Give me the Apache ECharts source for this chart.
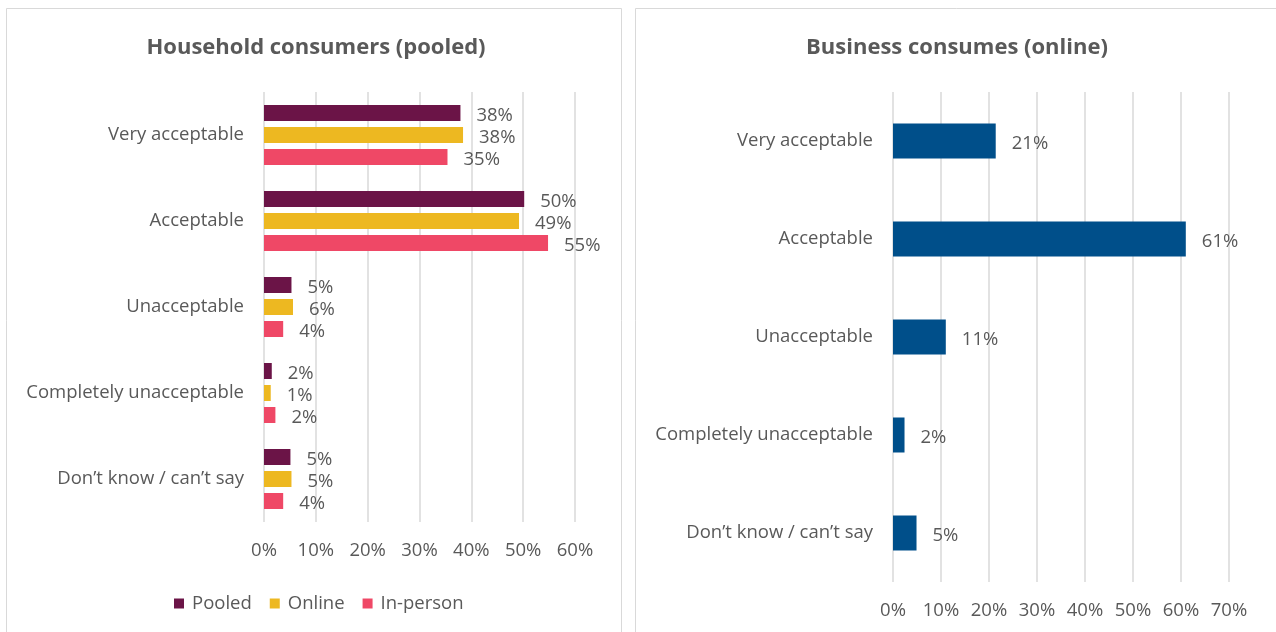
<!DOCTYPE html>
<html>
<head>
<meta charset="utf-8">
<script src="https://cdn.jsdelivr.net/npm/echarts@6/dist/echarts.min.js"></script>
<style>
  html, body { margin: 0; padding: 0; background: #fff; }
  #chart { width: 1276px; height: 632px; }
</style>
</head>
<body>
<div id="chart"></div>
<script>
// Response categories, top to bottom
const categories = ['Very acceptable', 'Acceptable', 'Unacceptable', 'Completely unacceptable', 'Don\u2019t know / can\u2019t say'];

// Household consumers (pooled), percent
const pooled   = [37.9, 50.2, 5.3, 1.5, 5.1];
const online   = [38.4, 49.2, 5.6, 1.3, 5.3];
const inPerson = [35.4, 54.8, 3.7, 2.2, 3.7];

// Business consumers (online), percent
const business = [21.4, 61.0, 11.0, 2.4, 4.9];

const leftTicks  = { min: 0, max: 60, interval: 10 };
const rightTicks = { min: 0, max: 70, interval: 10 };

const FONT = 'Open Sans';
const GREY = '#595959';
const SIZE = 18.5;

const chart = echarts.init(document.getElementById('chart'), null, { renderer: 'canvas' });

const pct = p => Math.round(p.value) + '%';

function valueAxis(gridIndex, ticks) {
  return {
    type: 'value', gridIndex,
    min: ticks.min, max: ticks.max, interval: ticks.interval,
    axisLine: { show: false }, axisTick: { show: false },
    splitLine: { show: true, lineStyle: { color: '#d9d9d9', width: 1.5 } },
    axisLabel: { formatter: '{value}%', color: GREY, fontFamily: FONT, fontSize: SIZE, margin: 19 }
  };
}

function categoryAxis(gridIndex) {
  return {
    type: 'category', gridIndex, data: categories, inverse: true,
    axisLine: { show: false }, axisTick: { show: false },
    axisLabel: { color: GREY, fontFamily: FONT, fontSize: SIZE, margin: 20 }
  };
}

function barSeries(name, data, color, axisIndex, extra) {
  return Object.assign({
    name, type: 'bar', data,
    xAxisIndex: axisIndex, yAxisIndex: axisIndex,
    itemStyle: { color },
    label: {
      show: true, position: 'right', distance: 16, formatter: pct,
      color: GREY, fontFamily: FONT, fontSize: SIZE, offset: [0, 3]
    }
  }, extra);
}

chart.setOption({
  animation: false,
  backgroundColor: '#fff',
  graphic: [
    { type: 'rect', shape: { x: 6.5, y: 8.5, width: 615, height: 640 },
      style: { fill: 'none', stroke: '#d9d9d9', lineWidth: 1 } },
    { type: 'rect', shape: { x: 635.5, y: 8.5, width: 660, height: 640 },
      style: { fill: 'none', stroke: '#d9d9d9', lineWidth: 1 } }
  ],
  title: [
    { text: 'Household consumers (pooled)', left: 311, top: 32, textAlign: 'center',
      textStyle: { color: GREY, fontFamily: FONT, fontSize: 22, fontWeight: 'bold' } },
    { text: 'Business consumes (online)', left: 952, top: 32, textAlign: 'center',
      textStyle: { color: GREY, fontFamily: FONT, fontSize: 22, fontWeight: 'bold' } }
  ],
  legend: {
    data: ['Pooled', 'Online', 'In-person'],
    left: 169, top: 589,
    itemWidth: 10, itemHeight: 10, itemGap: 18,
    icon: 'rect',
    textStyle: { color: GREY, fontFamily: FONT, fontSize: SIZE, padding: [0, 0, 0, 3] }
  },
  grid: [
    { left: 264, right: 701, top: 92, height: 430 },
    { left: 893, right: 47, top: 92, height: 490 }
  ],
  xAxis: [valueAxis(0, leftTicks), valueAxis(1, rightTicks)],
  yAxis: [categoryAxis(0), categoryAxis(1)],
  series: [
    barSeries('Pooled', pooled, '#6b1447', 0, { barWidth: 16, barGap: '37.5%' }),
    barSeries('Online', online, '#edb821', 0, { barWidth: 16, barGap: '37.5%' }),
    barSeries('In-person', inPerson, '#ef4866', 0, { barWidth: 16, barGap: '37.5%' }),
    barSeries('Business', business, '#004f8a', 1, { barWidth: 35 })
  ]
});
</script>
</body>
</html>
